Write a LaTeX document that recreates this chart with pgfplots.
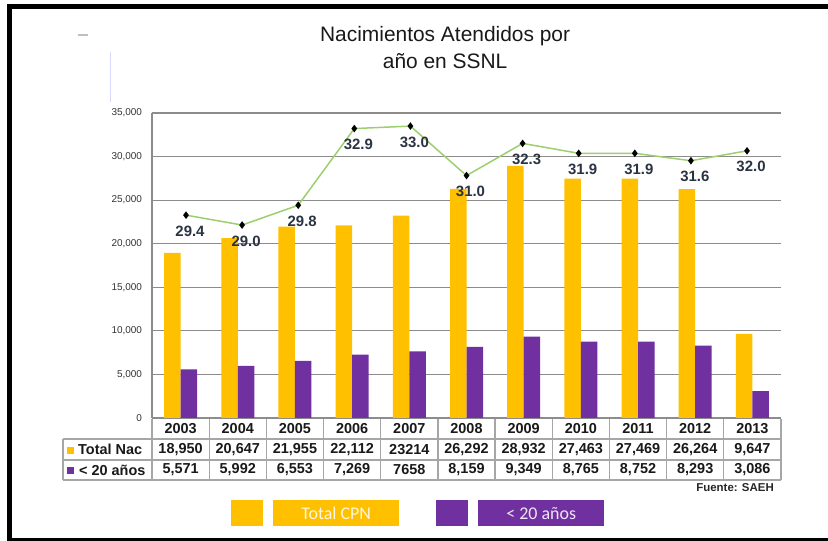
\documentclass[border=0pt]{standalone}
\usepackage{pgfplots}
\usepackage{pgfplotstable}
\pgfplotsset{compat=1.18}
\usepackage{fontspec}
\setmainfont{Liberation Sans}
\newfontfamily\carlito{Carlito}
\definecolor{cpn}{HTML}{FFC000}
\definecolor{joven}{HTML}{7030A0}
\definecolor{linea}{HTML}{9CCF6E}
\definecolor{etiq}{HTML}{2A3341}
\definecolor{rejilla}{HTML}{8C8C8C}
\definecolor{tabla}{HTML}{A6A6A6}
\pgfplotsset{/pgf/number format/assume math mode=true}

\pgfplotstableread{
i total joven pct
0 18950 5571 29.4
1 20647 5992 29.0
2 21955 6553 29.8
3 22112 7269 32.9
4 23214 7658 33.0
5 26292 8159 31.0
6 28932 9349 32.3
7 27463 8765 31.9
8 27469 8752 31.9
9 26264 8293 31.6
10 9647 3086 32.0
}\datos

\begin{document}
\begin{tikzpicture}[x=1bp,y=1bp]
\path[use as bounding box] (0,0) rectangle (828,541);
% frame
\fill[black] (7,0) rectangle (12,537);
\fill[black] (7,532) rectangle (828,537);
\fill[black] (7,0) rectangle (828,3);
% small artifacts
\fill[gray!50] (78,505) rectangle (88,507);
\draw[blue!15, line width=1bp] (110,489) -- (110,439);

\begin{axis}[
  at={(152bp,123bp)}, anchor=south west,
  width=629bp, height=305bp, scale only axis,
  xmin=-0.5, xmax=10.5, ymin=0, ymax=35000,
  ybar=0pt, bar width=16.5bp,
  xtick=\empty, ytick={0,5000,...,35000},
  scaled y ticks=false,
  yticklabel style={font=\fontsize{10}{12}\selectfont, text=black!80,
    /pgf/number format/1000 sep={,}, xshift=-6.5bp},
  ymajorgrids, grid style={rejilla, line width=1.2bp},
  major tick length=0pt,
  axis lines=left, axis line style={-, rejilla, line width=1.2bp},
  title={Nacimientos Atendidos por\\año en SSNL},
  title style={at={(0.466,1.195)}, anchor=center, align=center,
    font=\fontsize{21}{27}\selectfont, text=black!90},
  legend columns=2,
  legend style={at={(0.1256,-0.354)}, anchor=south west, draw=none, fill=none,
    inner sep=0pt, nodes={inner sep=0pt},
    /tikz/every odd column/.append style={column sep=10bp},
    /tikz/every even column/.append style={column sep=37bp}},
]
\addplot[fill=cpn, draw=none,
  legend image code/.code={\fill[cpn] (0bp,-17bp) rectangle (32bp,9bp);}]
  table[x=i,y=total]{\datos};
\addplot[fill=joven, draw=none,
  legend image code/.code={\fill[joven] (0bp,-17bp) rectangle (32bp,9bp);}]
  table[x=i,y=joven]{\datos};
\legend{{\setlength{\fboxsep}{0pt}\colorbox{cpn}{\parbox[c][26bp][c]{126bp}{\centering\carlito\fontsize{18}{20}\selectfont\color{cpn!12}Total CPN}}},
        {\setlength{\fboxsep}{0pt}\colorbox{joven}{\parbox[c][26bp][c]{126bp}{\centering\carlito\fontsize{18}{20}\selectfont\color{joven!12}< 20 años}}}}
\end{axis}

\begin{axis}[
  at={(152bp,123bp)}, anchor=south west,
  width=629bp, height=305bp, scale only axis, hide axis,
  xmin=-0.606, xmax=10.606, ymin=21.2, ymax=33.53, clip=false]
\addplot[linea, line width=1.5bp, mark=diamond*, mark size=2.6bp,
  mark options={black, fill=black},
  point meta=y,
  nodes near coords={\pgfmathprintnumber[fixed,fixed zerofill,precision=1]{\pgfplotspointmeta}},
  nodes near coords style={font=\bfseries\fontsize{15}{17}\selectfont, text=etiq,
    anchor=center, xshift=4bp, yshift=-16bp}]
  table[x=i,y=pct]{\datos};
\end{axis}

% data table
\begin{scope}[tabla, line width=1.3bp]
\draw (63,102) -- (781,102);
\draw (63,81) -- (781,81);
\draw (63,61) -- (781,61);
\draw (63,102) -- (63,61);
\foreach \k in {0,...,11} {
  \draw ({152+57.18*\k},122) -- ({152+57.18*\k},61);
}
\end{scope}
\foreach \a/\b/\c [count=\k from 0] in {2003/{18,950}/{5,571},2004/{20,647}/{5,992},
  2005/{21,955}/{6,553},2006/{22,112}/{7,269},2007/{23214}/{7658},2008/{26,292}/{8,159},
  2009/{28,932}/{9,349},2010/{27,463}/{8,765},2011/{27,469}/{8,752},2012/{26,264}/{8,293},
  2013/{9,647}/{3,086}} {
  \pgfmathsetmacro\cx{152+57.18*(\k+0.5)}
  \node[font=\bfseries\fontsize{14.5}{16}\selectfont, text=black!90] at (\cx,112) {\a};
  \node[font=\bfseries\fontsize{14.5}{16}\selectfont, text=black!90] at (\cx,91.5) {\b};
  \node[font=\bfseries\fontsize{14.5}{16}\selectfont, text=black!90] at (\cx,71) {\c};
}
\fill[cpn] (67,87) rectangle (74,94);
\node[anchor=west, inner sep=0pt, font=\bfseries\fontsize{14.5}{16}\selectfont, text=black!90] at (78,91.5) {Total Nac};
\fill[joven] (67,67) rectangle (74,74);
\node[anchor=west, inner sep=0pt, font=\bfseries\fontsize{14.5}{16}\selectfont, text=black!90] at (79,71) {< 20 años};
\node[anchor=east, inner sep=0pt, font=\bfseries\fontsize{11.5}{13}\selectfont, text=black!85] at (774,53) {Fuente: SAEH};
\end{tikzpicture}
\end{document}
